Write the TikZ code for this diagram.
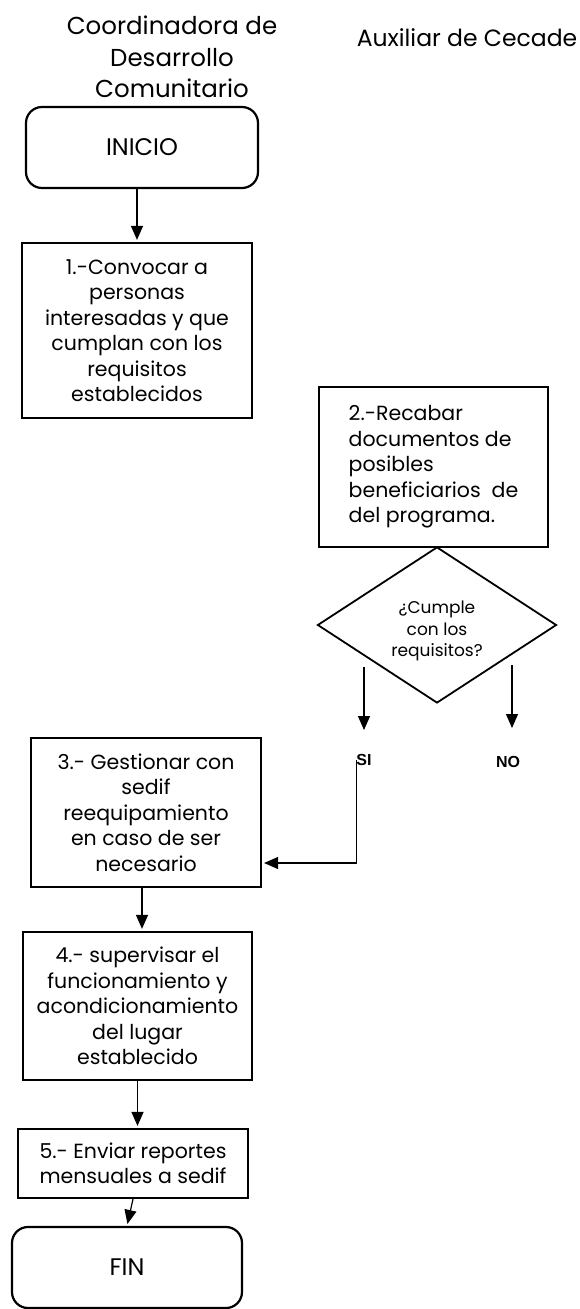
\documentclass[tikz,border=0pt]{standalone}
\usepackage{fontspec}
\setmainfont{Poppins}
\newfontfamily\arialfont{Liberation Sans}
\usetikzlibrary{arrows.meta,shapes.geometric}

\begin{document}
\begin{tikzpicture}[x=1pt, y=-1pt,
  box/.style={shape=rectangle, draw=black, line width=2.2pt, minimum width=230pt, align=center, inner sep=0pt, font=\fontsize{20.5}{25.5}\selectfont},
  term/.style={box, rounded corners=16pt, minimum height=81pt, font=\fontsize{24}{28}\selectfont},
  flow/.style={-{Triangle[length=14pt,width=12pt]}, line width=1.2pt, draw=black, shorten >=2pt},
  lane/.style={align=center, font=\fontsize{24.5}{31.5}\selectfont},
  answer/.style={font=\arialfont\bfseries\fontsize{16}{18}\selectfont, inner sep=0pt}]
\useasboundingbox (0,0) rectangle (580,1309);
\node[lane] (coord) at (172,57) {Coordinadora de\\Desarrollo\\Comunitario};
\node[lane, font=\fontsize{23.5}{30}\selectfont] (aux) at (467,38) {Auxiliar de Cecade};
\node[term, minimum width=232pt] (inicio) at (142,147.5) {INICIO};
\node[box, minimum height=175pt] (1) at (137,330.5) {1.-Convocar a\\personas\\interesadas y que\\cumplan con los\\requisitos\\establecidos};
\node[box, minimum width=229pt, minimum height=160pt, align=left] (2) at (433.5,467) {2.-Recabar\\documentos de\\posibles\\beneficiarios~ de\\del programa.};
\node[shape=diamond, draw=black, line width=1.8pt, minimum width=239pt, minimum height=156pt, inner sep=0pt,
  label={[align=center, font=\fontsize{17}{21.5}\selectfont, yshift=-6pt]center:{¿Cumple\\con los\\requisitos?}}] (q) at (437,625) {};
\node[answer] (si) at (364,760) {SI};
\node[answer] (no) at (508,762) {NO};
\node[box, minimum height=149pt] (3) at (146,812.5) {3.- Gestionar con\\sedif\\reequipamiento\\en caso de ser\\necesario};
\node[box, minimum width=229pt, minimum height=148pt] (4) at (137.5,1006) {4.- supervisar el\\funcionamiento y\\acondicionamiento\\del lugar\\establecido};
\node[box, minimum height=69pt] (5) at (133,1163.5) {5.- Enviar reportes\\mensuales a sedif};
\node[term, minimum width=230pt] (fin) at (127,1267.5) {FIN};
\coordinate (siA) at (364,667);
\coordinate (siB) at (364,732);
\coordinate (noA) at (512,665);
\coordinate (noB) at (512,730);
\path (inicio.south -| 1.north) edge[flow] (1.north);
\path (siA) edge[flow] (siB);
\path (noA) edge[flow] (noB);
\draw[flow] (si.west) |- ([yshift=-50.5pt]3.east);
\path ([xshift=-4pt]3.south) edge[flow] ([xshift=-4pt]3.south |- 4.north);
\path (4.south) edge[flow] (4.south |- 5.north);
\path (5.south) edge[flow] (fin.north);
\end{tikzpicture}
\end{document}
